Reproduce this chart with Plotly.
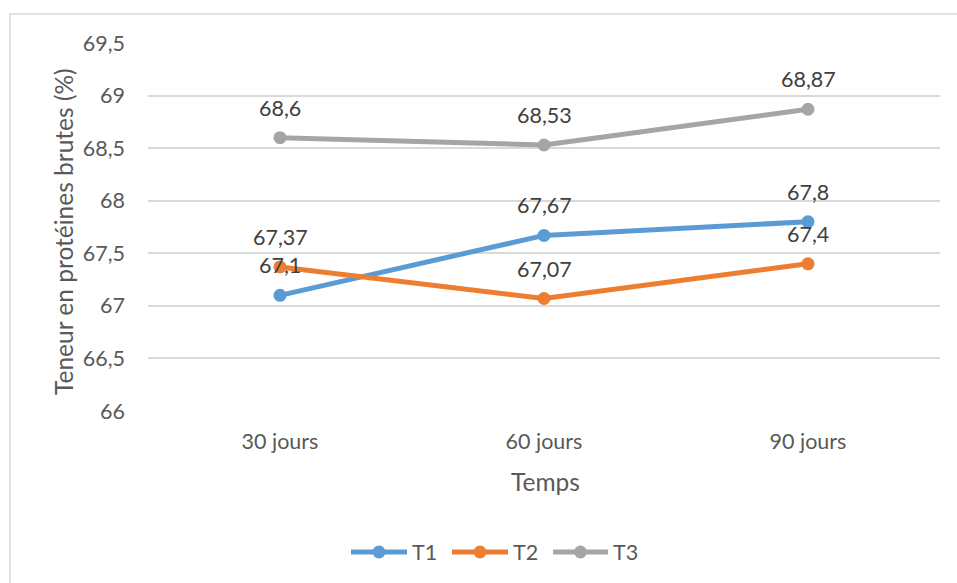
import plotly.graph_objects as go

# Crude protein content over storage time, three treatments
categories = ["30 jours", "60 jours", "90 jours"]
t1 = [67.10, 67.67, 67.80]
t2 = [67.37, 67.07, 67.40]
t3 = [68.60, 68.53, 68.87]
series_names = ["T1", "T2", "T3"]
colors = ["#5B9BD5", "#ED7D31", "#A5A5A5"]
y_ticks = [66, 66.5, 67, 67.5, 68, 68.5, 69, 69.5]
y_ticktext = ["66", "66,5", "67", "67,5", "68", "68,5", "69", "69,5"]

W, H = 957, 583
ML, MR, MT, MB = 148, 17, 43, 172
PW, PH = W - ML - MR, H - MT - MB

FONT = "Lato"
TICK_COLOR = "#595959"
LABEL_COLOR = "#404040"
GRID = "#D9D9D9"


def px_x(px):
    return (px - ML) / PW


def px_y(py):
    return (H - MB - py) / PH


def fmt(v):
    s = f"{v:.2f}".rstrip("0").rstrip(".")
    return s.replace(".", ",")


fig = go.Figure()
all_series = [t1, t2, t3]
for name, vals, col in zip(series_names, all_series, colors):
    fig.add_trace(go.Scatter(
        x=categories, y=vals, mode="lines+markers", name=name,
        line=dict(color=col, width=5),
        marker=dict(color=col, size=13),
        showlegend=False,
    ))

annotations = []
# value labels above each point
for vals in all_series:
    for c, v in zip(categories, vals):
        annotations.append(dict(
            x=c, y=v, xref="x", yref="y", text=fmt(v), showarrow=False,
            yshift=30, yanchor="middle", xanchor="center",
            font=dict(family=FONT, size=21.5, color=LABEL_COLOR),
        ))

# axis titles
annotations.append(dict(
    x=px_x(63), y=px_y(232), xref="paper", yref="paper",
    text="Teneur en protéines brutes (%)", textangle=-90, showarrow=False,
    xanchor="center", yanchor="middle",
    font=dict(family=FONT, size=24.5, color=TICK_COLOR),
))
annotations.append(dict(
    x=px_x(545), y=px_y(481), xref="paper", yref="paper",
    text="Temps", showarrow=False, xanchor="center", yanchor="middle",
    font=dict(family=FONT, size=24.5, color=TICK_COLOR),
))

shapes = []
# chart frame
shapes.append(dict(
    type="rect", xref="paper", yref="paper",
    x0=px_x(10), x1=px_x(962), y0=px_y(590), y1=px_y(14),
    line=dict(color=GRID, width=1.5), fillcolor="rgba(0,0,0,0)", layer="below",
))

# legend: line segment with a marker, then the name
legend_x = [(351, 407), (452, 508), (553, 608)]
legend_y = 552
for (x0, x1), name, col in zip(legend_x, series_names, colors):
    shapes.append(dict(
        type="line", xref="paper", yref="paper",
        x0=px_x(x0), x1=px_x(x1), y0=px_y(legend_y), y1=px_y(legend_y),
        line=dict(color=col, width=5),
    ))
    cx = (x0 + x1) / 2
    r = 6.5
    shapes.append(dict(
        type="circle", xref="paper", yref="paper",
        x0=px_x(cx - r), x1=px_x(cx + r),
        y0=px_y(legend_y + r), y1=px_y(legend_y - r),
        line=dict(color=col, width=0), fillcolor=col,
    ))
    annotations.append(dict(
        x=px_x(x1 + 3), y=px_y(legend_y), xref="paper", yref="paper",
        text=name, showarrow=False, xanchor="left", yanchor="middle",
        font=dict(family=FONT, size=21.5, color=TICK_COLOR),
    ))

fig.update_layout(
    width=W, height=H,
    margin=dict(l=ML, r=MR, t=MT, b=MB),
    paper_bgcolor="white", plot_bgcolor="white",
    font=dict(family=FONT, size=21.5, color=TICK_COLOR),
    xaxis=dict(
        type="category", range=[-0.5, 2.5], showgrid=False, zeroline=False,
        showline=False, ticks="", ticklabelstandoff=15,
        tickfont=dict(family=FONT, size=21.5, color=TICK_COLOR),
    ),
    yaxis=dict(
        range=[66, 69.5], tickvals=y_ticks, ticktext=y_ticktext,
        showgrid=True, gridcolor=GRID, gridwidth=1.5, zeroline=False,
        showline=False, ticks="", ticklabelstandoff=22,
        tickfont=dict(family=FONT, size=21.5, color=TICK_COLOR),
    ),
    annotations=annotations,
    shapes=shapes,
    showlegend=False,
)

fig.write_html("out.html")
